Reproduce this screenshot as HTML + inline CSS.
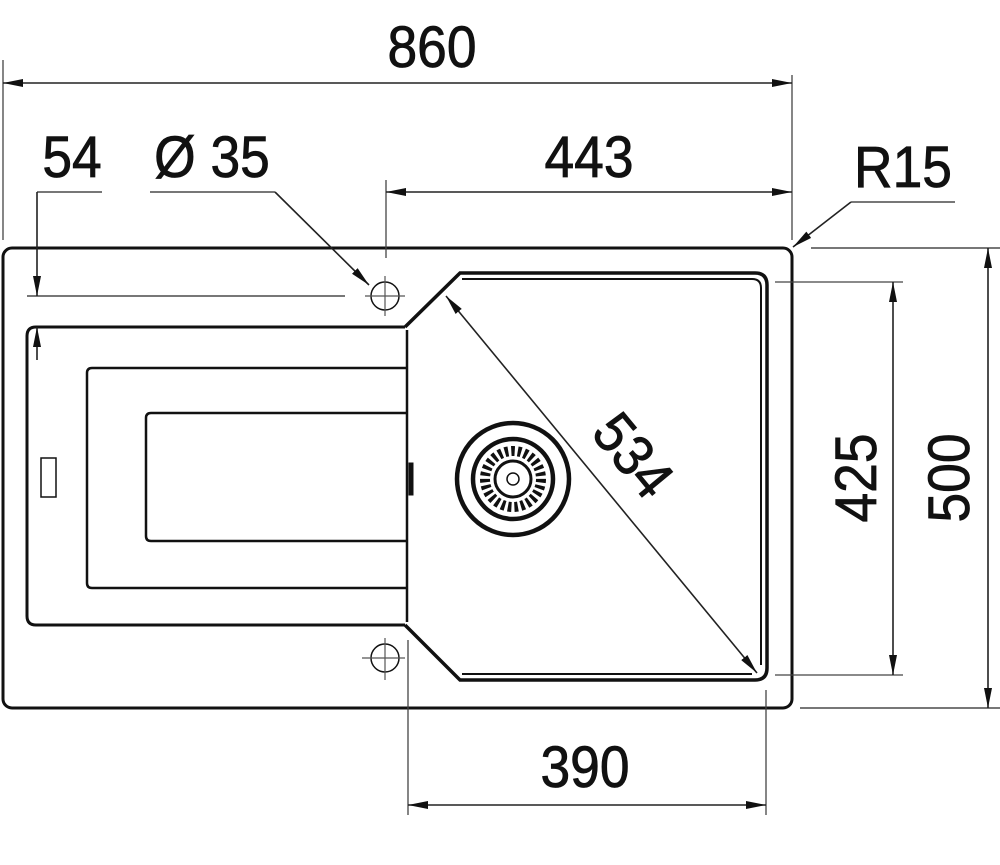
<!DOCTYPE html>
<html><head><meta charset="utf-8"><style>
html,body{margin:0;padding:0;background:#fff;}
svg{display:block;}
text{font-family:"Liberation Sans",sans-serif;fill:#111;stroke:#111;stroke-width:0.8;}
</style></head><body>
<svg width="1000" height="865" viewBox="0 0 1000 865" xmlns="http://www.w3.org/2000/svg">
<defs>
<marker id="a" viewBox="0 0 20 8" refX="20" refY="4" markerWidth="20" markerHeight="8" markerUnits="userSpaceOnUse" orient="auto-start-reverse"><path d="M0,0 L20,4 L0,8 Z" fill="#111"/></marker>
</defs>
<g fill="none" stroke="#111">
<rect x="3" y="248" width="789" height="460" rx="9" stroke-width="3"/>
<path d="M405,327 L36,327 Q27,327 27,336 L27,616 Q27,625 36,625 L405,625" stroke-width="3"/>
<line x1="407" y1="330" x2="407" y2="622" stroke-width="2.5"/>
<path d="M408,368 L92,368 Q87,368 87,373 L87,583 Q87,588 92,588 L408,588" stroke-width="2.5"/>
<path d="M408,413 L151,413 Q146,413 146,418 L146,536 Q146,541 151,541 L408,541" stroke-width="2.5"/>
<rect x="41" y="458" width="15" height="39" stroke-width="1.5"/>
<rect x="409" y="463" width="4" height="32" fill="#111" stroke-width="1"/>
<path d="M405,327 L460,273 L755,273 Q767,273 767,285 L767,668 Q767,680 755,680 L460,680 L405,625" stroke-width="3.5"/>
<path d="M462,279 L752,279 Q761,279 761,288 L761,665" stroke-width="2"/>
<path d="M462,674 L752,674" stroke-width="2"/>
<circle cx="513" cy="479" r="56" stroke-width="4.5"/>
<circle cx="513" cy="479" r="40" stroke-width="4.5"/>
<circle cx="513" cy="479" r="28" stroke-width="10" stroke-dasharray="3.5 3"/>
<circle cx="513" cy="479" r="18" stroke-width="3"/>
<circle cx="513" cy="479" r="6" stroke-width="1.5"/>
<circle cx="385" cy="296" r="14" stroke-width="1.5"/>
<circle cx="385" cy="658" r="14" stroke-width="1.5"/>
<g stroke-width="1.2" stroke="#555">
<line x1="365" y1="296" x2="405" y2="296"/><line x1="385" y1="276" x2="385" y2="316"/>
<line x1="362" y1="658" x2="405" y2="658"/><line x1="385" y1="638" x2="385" y2="680"/>
</g>
<g stroke="#444" stroke-width="1.3">
<line x1="3" y1="60" x2="3" y2="240"/>
<line x1="792" y1="75" x2="792" y2="240"/>
<line x1="386" y1="180" x2="386" y2="258"/>
<line x1="27" y1="296" x2="345" y2="296" stroke="#777" stroke-width="2"/>
<line x1="37" y1="192" x2="102" y2="192" stroke="#777" stroke-width="2"/>
<line x1="150" y1="192" x2="275" y2="192" stroke="#777" stroke-width="2"/>
<line x1="851" y1="202" x2="955" y2="202" stroke="#777" stroke-width="2"/>
<line x1="775" y1="282" x2="903" y2="282"/>
<line x1="775" y1="675" x2="903" y2="675"/>
<line x1="811" y1="248" x2="1000" y2="248" stroke="#777" stroke-width="2"/>
<line x1="800" y1="708" x2="1000" y2="708" stroke="#777" stroke-width="2"/>
<line x1="408" y1="640" x2="408" y2="815"/>
<line x1="766" y1="690" x2="766" y2="815"/>
</g>
<g stroke="#222" stroke-width="1.6">
<line x1="3" y1="83" x2="792" y2="83" marker-start="url(#a)" marker-end="url(#a)"/>
<line x1="386" y1="192" x2="792" y2="192" marker-start="url(#a)" marker-end="url(#a)"/>
<line x1="37" y1="192" x2="37" y2="296" marker-end="url(#a)"/>
<line x1="37" y1="360" x2="37" y2="327" marker-end="url(#a)"/>
<line x1="275" y1="192" x2="369" y2="285" marker-end="url(#a)"/>
<line x1="851" y1="202" x2="793" y2="247" marker-end="url(#a)"/>
<line x1="893" y1="282" x2="893" y2="675" marker-start="url(#a)" marker-end="url(#a)"/>
<line x1="988" y1="248" x2="988" y2="708" marker-start="url(#a)" marker-end="url(#a)"/>
<line x1="408" y1="805" x2="766" y2="805" marker-start="url(#a)" marker-end="url(#a)"/>
<line x1="446" y1="296" x2="757" y2="673" marker-start="url(#a)" marker-end="url(#a)"/>
</g>
</g>
<g font-size="58">
<text x="432" y="67" text-anchor="middle" transform="translate(432 0) scale(0.92 1) translate(-432 0)">860</text>
<text x="72" y="177" text-anchor="middle" transform="translate(72 0) scale(0.92 1) translate(-72 0)">54</text>
<text x="212" y="177" text-anchor="middle" transform="translate(212 0) scale(0.92 1) translate(-212 0)">Ø 35</text>
<text x="589" y="177" text-anchor="middle" transform="translate(589 0) scale(0.92 1) translate(-589 0)">443</text>
<text x="903" y="187" text-anchor="middle" transform="translate(903 0) scale(0.92 1) translate(-903 0)">R15</text>
<text x="585" y="787" text-anchor="middle" transform="translate(585 0) scale(0.92 1) translate(-585 0)">390</text>
<text transform="translate(876 478) rotate(-90) scale(0.92 1)" text-anchor="middle" x="0" y="0">425</text>
<text transform="translate(969 478) rotate(-90) scale(0.92 1)" text-anchor="middle" x="0" y="0">500</text>
<text transform="translate(618 468) rotate(50.5) scale(0.92 1)" text-anchor="middle" x="0" y="0">534</text>
</g>
</svg>
</body></html>
